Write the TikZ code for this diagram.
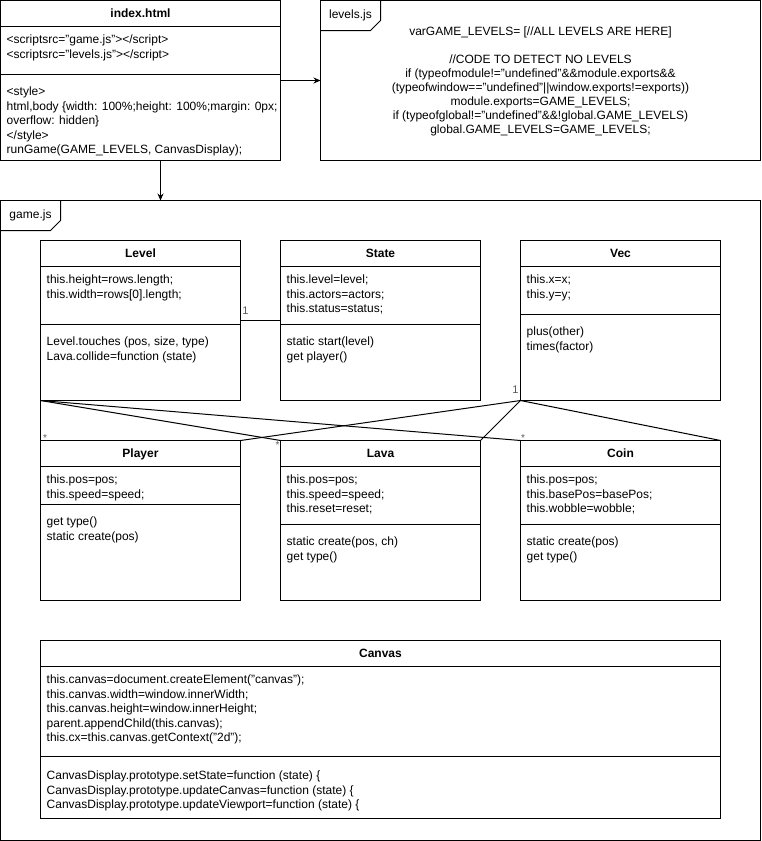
\documentclass[tikz,border=0pt]{standalone}
\usepackage{fontspec}
\setmainfont{Liberation Sans}
\usetikzlibrary{arrows.meta}
\newcommand\umlfont{\fontsize{12}{14.4}\selectfont}
\newcommand\codefont{\fontsize{12}{14}\selectfont}
\tikzset{
  box/.style={draw, line width=1pt, rectangle, inner sep=0pt, outer sep=0pt, anchor=north west},
  frametab/.style={draw, line width=1pt},
  txt/.style={anchor=north west, inner sep=0pt, align=left, font=\umlfont},
  ttl/.style={anchor=base, inner sep=0pt, font=\umlfont\bfseries},
  link/.style={line width=1pt},
  mult/.style={inner sep=0pt, text=black!65, font=\fontsize{11}{12}\selectfont},
  star/.style={inner sep=0pt, text=black!65, font=\fontsize{10}{11}\selectfont},
}
\begin{document}
\begin{tikzpicture}[x=1pt,y=-1pt]
\useasboundingbox (-0.5,-0.5) rectangle (760.5,840.5);

% ---------- index.html ----------
\node[box, minimum width=280pt, minimum height=160pt] (index) at (0,0) {};
\draw[link] (index.north west) ++(0,26) -- ++(280,0);
\draw[link] (index.north west) ++(0,74) -- ++(280,0);
\node[ttl] (indexT) at (140,257.3-240) {index.html};
\node[txt] (indexA) at (6,39-5.8) {\strut<scriptsrc="game.js"></script>\\<scriptsrc="levels.js"></script>};
\node[txt] (indexM) at (6,91-5.8) {\strut<style>\\html,body \{width: 100\%;height: 100\%;margin: 0px;\\overflow: hidden\}\\</style>\\runGame(GAME\_LEVELS, CanvasDisplay);};

% ---------- levels.js ----------
\node[box, minimum width=440pt, minimum height=160pt] (levels) at (320,0) {};
\draw[frametab] (380,0) -- (380,20) -- (370,30) -- (320,30);
\node[inner sep=0pt, font=\umlfont] (levelsT) at (350,15) {levels.js};
\node[anchor=north, inner sep=0pt, align=center, font=\codefont] (levelsC) at (540,31-5.8)
  {\strut varGAME\_LEVELS= [//ALL LEVELS ARE HERE]\\
   \mbox{}\\
   //CODE TO DETECT NO LEVELS\\
   if (typeofmodule!="undefined"\&\&module.exports\&\&\\
   (typeofwindow=="undefined"||window.exports!=exports))\\
   module.exports=GAME\_LEVELS;\\
   if (typeofglobal!="undefined"\&\&!global.GAME\_LEVELS)\\
   global.GAME\_LEVELS=GAME\_LEVELS;};

\draw[link, -{Stealth[length=7pt,width=6pt]}] (index.east) -- (levels.west);

% ---------- game.js frame ----------
\node[box, minimum width=760pt, minimum height=640pt] (game) at (0,200) {};
\draw[frametab] (60,200) -- (60,220) -- (50,230) -- (0,230);
\node[inner sep=0pt, font=\umlfont] (gameT) at (30,215) {game.js};

\draw[link, -{Stealth[length=7pt,width=6pt]}] ([xshift=160pt]index.south west) -- ([xshift=160pt]game.north west);

% ---------- Level ----------
\node[box, minimum width=200pt, minimum height=160pt] (level) at (40,240) {};
\draw[link] (level.north west) ++(0,26) -- ++(200,0);
\draw[link] (level.north west) ++(0,84) -- ++(200,0);
\node[ttl] (levelT) at (140,257.3) {Level};
\node[txt] (levelA) at (46,279-5.8) {\strut this.height=rows.length;\\this.width=rows[0].length;};
\node[txt] (levelM) at (46,341-5.8) {\strut Level.touches (pos, size, type)\\Lava.collide=function (state)};

% ---------- State ----------
\node[box, minimum width=200pt, minimum height=160pt] (state) at (280,240) {};
\draw[link] (state.north west) ++(0,26) -- ++(200,0);
\draw[link] (state.north west) ++(0,84) -- ++(200,0);
\node[ttl] (stateT) at (380,257.3) {State};
\node[txt] (stateA) at (286,279-5.8) {\strut this.level=level;\\this.actors=actors;\\this.status=status;};
\node[txt] (stateM) at (286,341-5.8) {\strut static start(level)\\get player()};

% ---------- Vec ----------
\node[box, minimum width=200pt, minimum height=160pt] (vec) at (520,240) {};
\draw[link] (vec.north west) ++(0,26) -- ++(200,0);
\draw[link] (vec.north west) ++(0,74) -- ++(200,0);
\node[ttl] (vecT) at (620,257.3) {Vec};
\node[txt] (vecA) at (526,279-5.8) {\strut this.x=x;\\this.y=y;};
\node[txt] (vecM) at (526,331-5.8) {\strut plus(other)\\times(factor)};

% ---------- Player ----------
\node[box, minimum width=200pt, minimum height=160pt] (player) at (40,440) {};
\draw[link] (player.north west) ++(0,26) -- ++(200,0);
\draw[link] (player.north west) ++(0,64) -- ++(200,0);
\node[ttl] (playerT) at (140,457.3) {Player};
\node[txt] (playerA) at (46,479-5.8) {\strut this.pos=pos;\\this.speed=speed;};
\node[txt] (playerM) at (46,521-5.8) {\strut get type()\\static create(pos)};

% ---------- Lava ----------
\node[box, minimum width=200pt, minimum height=160pt] (lava) at (280,440) {};
\draw[link] (lava.north west) ++(0,26) -- ++(200,0);
\draw[link] (lava.north west) ++(0,84) -- ++(200,0);
\node[ttl] (lavaT) at (380,457.3) {Lava};
\node[txt] (lavaA) at (286,479-5.8) {\strut this.pos=pos;\\this.speed=speed;\\this.reset=reset;};
\node[txt] (lavaM) at (286,541-5.8) {\strut static create(pos, ch)\\get type()};

% ---------- Coin ----------
\node[box, minimum width=200pt, minimum height=160pt] (coin) at (520,440) {};
\draw[link] (coin.north west) ++(0,26) -- ++(200,0);
\draw[link] (coin.north west) ++(0,84) -- ++(200,0);
\node[ttl] (coinT) at (620,457.3) {Coin};
\node[txt] (coinA) at (526,479-5.8) {\strut this.pos=pos;\\this.basePos=basePos;\\this.wobble=wobble;};
\node[txt] (coinM) at (526,541-5.8) {\strut static create(pos)\\get type()};

% ---------- Canvas ----------
\node[box, minimum width=680pt, minimum height=178pt] (canvas) at (40,640) {};
\draw[link] (canvas.north west) ++(0,26) -- ++(680,0);
\draw[link] (canvas.north west) ++(0,116) -- ++(680,0);
\node[ttl] (canvasT) at (380,657.3) {Canvas};
\node[txt] (canvasA) at (46,679-5.8) {\strut this.canvas=document.createElement("canvas");\\this.canvas.width=window.innerWidth;\\this.canvas.height=window.innerHeight;\\parent.appendChild(this.canvas);\\this.cx=this.canvas.getContext("2d");};
\node[txt] (canvasM) at (46,775-5.8) {\strut CanvasDisplay.prototype.setState=function (state) \{\\CanvasDisplay.prototype.updateCanvas=function (state) \{\\CanvasDisplay.prototype.updateViewport=function (state) \{};

% ---------- associations ----------
\draw[link] (level.east) -- (state.west);
\node[mult] (m1) at (245,310) {1};

\draw[link] (level.south west) -- (player.north west);
\draw[link] (level.south west) -- (lava.north west);
\draw[link] (level.south west) -- (coin.north west);
\draw[link] (vec.south west) -- (player.north east);
\draw[link] (vec.south west) -- (lava.north east);
\draw[link] (vec.south west) -- (coin.north east);
\node[mult] (m2) at (515,389) {1};
\node[star] (s1) at (44.5,438) {*};
\node[star] (s2) at (277,445) {*};
\node[star] (s3) at (522.5,438) {*};
\end{tikzpicture}
\end{document}
